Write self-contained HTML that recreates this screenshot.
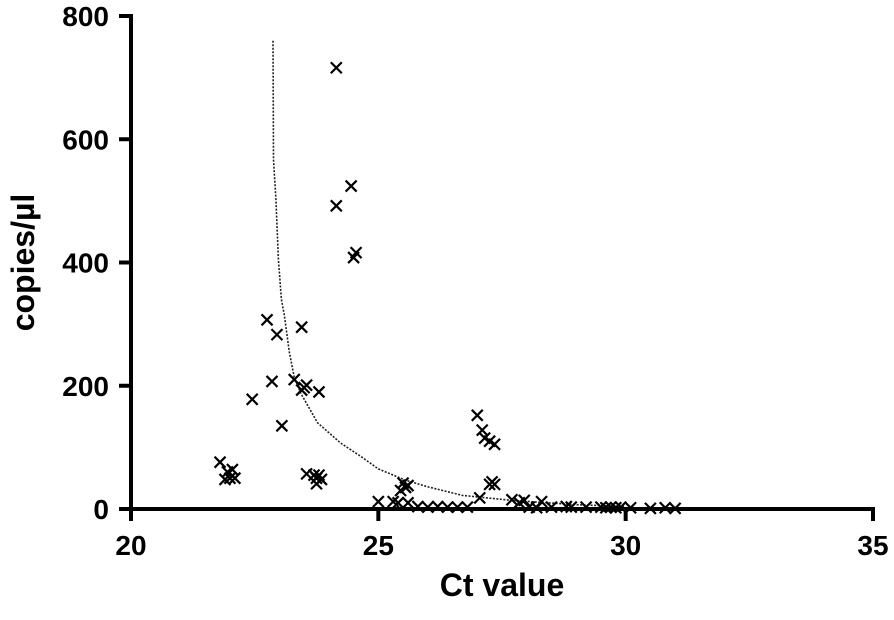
<!DOCTYPE html>
<html><head><meta charset="utf-8"><style>
html,body{margin:0;padding:0;background:#fff;}
svg{display:block;font-family:"Liberation Sans",sans-serif;}
</style></head><body>
<svg id="chart" width="894" height="620" viewBox="0 0 894 620"></svg>
<script>
const xTicks=[20,25,30,35];
const yTicks=[0,200,400,600,800];
const ptX=[21.8,21.95,22.0,22.05,21.9,22.1,22.45,22.75,22.95,22.85,23.05,23.45,23.3,23.45,23.5,23.55,23.8,23.55,23.7,23.75,23.75,23.8,23.85,24.15,24.15,24.45,24.5,24.55,
25.0,25.3,25.4,25.6,25.45,25.55,25.6,25.5,25.8,26.2,26.4,26.6,27.0,27.1,27.15,27.25,27.35,27.25,27.3,27.35,27.05,27.7,27.85,27.95,28.05,28.3,28.5,28.8,28.9,29.5,29.6,29.7,29.8,29.9,30.1,30.5,30.8,31.0,26.0,26.8,28.2,29.2];
const ptY=[76,60,50,64,48,50,178,307,283,207,135,295,210,193,197,201,190,57,55,50,41,55,48,716,492,524,408,416,
12,12,10,10,30,35,38,42,4,4,3,3,152,128,115,110,105,40,44,40,18,15,10,14,3,12,3,4,3,3,2,3,2,3,2,1,2,1,3,3,2,3];
const curveX=[22.87,22.88,22.93,22.98,23.04,23.1,23.2,23.3,23.43,23.77,24.24,24.67,25.0,25.54,26.0,26.7,27.7,29.0,30.0];
const curveY=[760,567,503,405,340,315,255,214,188,140,107,84,65,47,36,22,14,7,4];
const X0=131,X1=873,Y0=509,Y1=16;
const sx=v=>X0+(v-20)/(35-20)*(X1-X0);
const sy=v=>Y0-(v/800)*(Y0-Y1);
const svg=document.getElementById('chart');
const NS='http://www.w3.org/2000/svg';
function mk(t,a,p){const e=document.createElementNS(NS,t);for(const k in a)e.setAttribute(k,a[k]);(p||svg).appendChild(e);return e;}
let d='';curveX.forEach((x,i)=>{d+=(i?'L':'M')+sx(x).toFixed(1)+','+sy(curveY[i]).toFixed(1);});
const cv=mk('path',{d:d,fill:'none',stroke:'#222','stroke-width':1.6,'stroke-dasharray':'2 1.5'});


const g=mk('g',{stroke:'#000','stroke-width':2.2});


ptX.forEach((x,i)=>{const cx=sx(x),cy=sy(ptY[i]),r=5.5;
 const p=mk('path',{d:`M${cx-r},${cy-r}L${cx+r},${cy+r}M${cx-r},${cy+r}L${cx+r},${cy-r}`},g);
 
 });
const ax=mk('g',{stroke:'#000','stroke-width':4,fill:'none'});


mk('line',{x1:X0,y1:Y1-2,x2:X0,y2:Y0+2},ax);
mk('line',{x1:X0-2,y1:Y0,x2:X1+2,y2:Y0},ax);
yTicks.forEach(v=>{mk('line',{x1:X0-12,y1:sy(v),x2:X0,y2:sy(v)},ax);
 const t=mk('text',{x:X0-22,y:sy(v)+10,'text-anchor':'end','font-size':28,'font-weight':'bold',fill:'#000'});
 t.textContent=v;
 
 });
xTicks.forEach(v=>{mk('line',{x1:sx(v),y1:Y0,x2:sx(v),y2:Y0+12},ax);
 const t=mk('text',{x:sx(v),y:Y0+46,'text-anchor':'middle','font-size':28,'font-weight':'bold',fill:'#000'});
 t.textContent=v;
 
 });
const xt=mk('text',{x:sx(27.5),y:596,'text-anchor':'middle','font-size':32,'font-weight':'bold',fill:'#000'});
xt.textContent='Ct value';


const yt=mk('text',{x:0,y:0,'text-anchor':'middle','font-size':32,'font-weight':'bold',fill:'#000',transform:`translate(34,${sy(400)}) rotate(-90)`});
yt.textContent='copies/µl';


</script>
</body></html>
